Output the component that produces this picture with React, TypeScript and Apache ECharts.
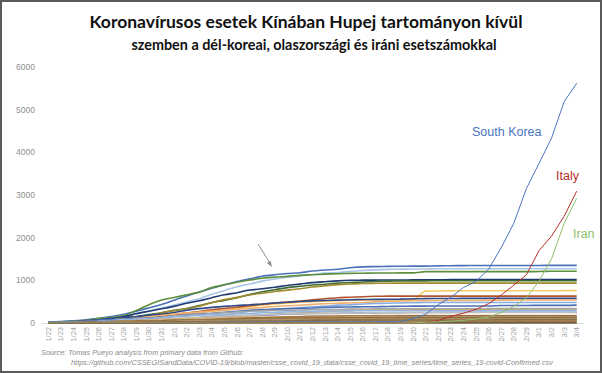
import React, { useEffect, useRef } from "react";
import * as echarts from "echarts";

const dates = ["1/22","1/23","1/24","1/25","1/26","1/27","1/28","1/29","1/30","1/31",
  "2/1","2/2","2/3","2/4","2/5","2/6","2/7","2/8","2/9","2/10","2/11","2/12","2/13","2/14","2/15",
  "2/16","2/17","2/18","2/19","2/20","2/21","2/22","2/23","2/24","2/25","2/26","2/27","2/28","2/29",
  "3/1","3/2","3/3","3/4"];

const yTicks = [0, 1000, 2000, 3000, 4000, 5000, 6000];

const guangdong = [26,32,53,78,111,151,207,277,354,436, 535,632,725,813,895,970,1034,1095,1131,1159,1177,1219,1241,1261,1294,1316,1322,1328,1331,1332,1333,1339,1342,1345,1347,1347,1347,1348,1349, 1349,1350,1350,1350];
const henan = [5,5,9,32,83,128,168,206,278,352, 422,493,566,675,764,851,914,981,1033,1073,1105,1135,1169,1184,1212,1231,1246,1257,1262,1265,1267,1270,1271,1271,1271,1271,1272,1272,1272, 1272,1272,1272,1272];
const zhejiang = [10,27,43,62,104,128,173,296,428,538, 599,661,724,829,895,954,1006,1048,1075,1092,1117,1131,1145,1155,1162,1167,1171,1172,1174,1175,1203,1205,1205,1205,1205,1205,1205,1205,1205, 1206,1213,1213,1213];
const hunan = [4,9,24,43,69,100,143,221,277,332, 389,463,521,593,661,711,772,803,838,879,912,946,968,988,1001,1004,1006,1007,1008,1010,1011,1013,1016,1016,1016,1016,1017,1017,1018, 1018,1018,1018,1018];
const anhui = [1,9,15,39,60,70,106,152,200,237, 297,340,408,480,530,591,665,733,779,830,860,889,910,934,950,962,973,982,986,987,988,989,989,989,989,989,989,990,990, 990,990,990,990];
const jiangxi = [2,7,18,18,36,72,109,109,162,240, 286,333,391,476,548,600,661,698,740,771,804,844,872,900,913,925,930,933,934,934,934,934,934,934,934,934,934,934,935, 935,935,935,935];
const shandong = [2,6,15,27,46,75,95,130,158,184, 206,230,259,275,307,347,386,416,444,466,487,497,509,523,532,537,541,543,544,546,748,750,754,755,756,756,756,756,756, 756,756,758,758];
const jiangsu = [1,5,9,18,33,47,70,99,129,168, 202,236,271,308,341,373,408,439,468,492,515,543,570,593,604,617,626,629,631,631,631,631,631,631,631,631,631,631,631, 631,631,631,631];
const chongqing = [6,9,27,57,75,110,132,147,182,211, 247,300,337,366,389,411,426,446,468,486,505,518,529,537,544,551,553,555,560,567,572,573,575,576,576,576,576,576,576, 576,576,576,576];
const sichuan = [5,8,15,28,44,69,90,108,142,177, 207,231,254,282,301,321,344,363,386,405,417,436,451,463,470,481,495,508,514,520,525,526,526,527,529,531,534,538,538, 538,538,538,539];
const heilongjiang = [0,2,4,9,15,21,33,38,44,59, 80,95,121,155,190,227,277,282,307,331,360,378,395,418,425,445,457,464,470,476,479,479,480,480,480,480,480,480,480, 480,480,481,481];
const beijing = [14,22,36,41,68,80,91,111,114,139, 168,191,212,228,253,274,297,315,326,337,342,352,366,372,375,380,381,387,393,395,396,399,399,399,400,400,410,410,411, 413,414,414,418];
const shanghai = [9,16,20,33,40,53,66,96,112,135, 169,182,203,219,243,257,277,286,293,299,303,311,315,318,326,328,331,333,333,333,334,334,335,335,335,336,337,337,337, 337,337,338,339];
const hebei = [1,1,2,8,13,18,33,48,65,82, 96,104,113,126,135,157,171,195,206,218,239,251,265,283,291,300,301,306,306,307,308,309,311,311,311,312,317,318,318, 318,318,318,318];
const fujian = [1,5,10,18,35,59,80,84,101,120, 144,159,179,194,205,215,224,239,250,261,267,272,279,281,285,287,290,292,293,293,293,293,293,293,294,294,296,296,296, 296,296,296,296];
const guangxi = [2,5,23,23,36,46,51,58,78,87, 100,111,127,139,150,168,172,183,195,210,215,222,222,226,235,237,238,242,244,245,246,249,249,251,252,252,252,252,252, 252,252,252,252];
const shaanxi = [0,3,5,15,22,35,46,56,63,87, 101,116,128,142,165,173,184,195,208,213,219,225,229,230,232,236,240,240,242,245,245,245,245,245,245,245,245,245,245, 245,245,245,245];
const yunnan = [1,2,5,11,16,26,44,55,70,83, 93,105,117,122,128,137,138,140,141,149,154,155,162,168,169,171,172,172,172,174,174,174,174,174,174,174,174,174,174, 174,174,174,174];
const hainan = [4,5,8,19,22,33,40,43,46,52, 62,64,72,80,99,106,117,124,131,138,144,157,157,159,162,162,163,163,168,168,168,168,168,168,168,168,168,168,168, 168,168,168,168];
const guizhou = [1,3,3,4,5,7,9,9,12,29, 29,38,46,58,64,71,81,89,99,109,127,133,135,140,143,144,146,146,146,146,146,146,146,146,146,146,146,146,146, 146,146,146,146];
const tianjin = [4,4,8,10,14,23,24,27,31,32, 41,48,60,67,69,78,81,88,91,95,106,112,119,120,124,125,128,130,131,132,135,135,135,135,135,135,136,136,136, 136,136,136,136];
const shanxi = [1,1,1,6,9,13,27,27,35,39, 47,66,74,81,81,90,96,104,115,119,122,124,126,126,127,128,129,130,131,131,132,132,132,132,133,133,133,133,133, 133,133,133,133];
const liaoning = [2,3,4,17,21,27,34,39,41,48, 64,70,74,81,89,94,99,105,107,108,111,116,117,119,119,121,121,121,121,121,121,121,121,121,121,121,121,121,121, 122,122,125,125];
const hongKong = [0,2,2,5,8,8,8,10,10,12, 13,15,15,17,21,24,25,26,29,38,49,50,53,56,56,57,60,62,63,68,68,69,74,79,84,91,92,94,95, 96,100,100,105];
const jilin = [0,1,3,4,4,6,8,9,14,14, 17,23,31,42,54,59,65,69,78,80,81,83,84,86,88,89,89,89,90,91,91,91,91,93,93,93,93,93,93, 93,93,93,93];
const gansu = [0,2,2,4,7,14,19,24,26,29, 40,51,55,57,62,62,67,79,83,83,86,87,90,90,90,90,91,91,91,91,91,91,91,91,91,91,91,91,91, 91,91,91,91];
const xinjiang = [0,2,2,3,4,5,10,13,14,17, 18,21,24,29,32,36,39,42,45,49,55,59,63,65,70,71,75,76,76,76,76,76,76,76,76,76,76,76,76, 76,76,76,76];
const innerMongolia = [0,0,1,7,7,11,15,16,19,20, 23,27,34,35,42,46,50,52,54,58,58,60,61,65,68,70,72,73,75,75,75,75,75,75,75,75,75,75,75, 75,75,75,75];
const ningxia = [1,1,2,3,4,7,11,12,17,21, 26,28,31,34,34,40,43,45,45,49,53,58,64,67,70,70,70,70,71,71,71,71,71,71,72,72,73,73,73, 73,74,74,75];
const taiwan = [1,1,3,3,4,5,8,8,9,10, 10,10,10,11,11,16,16,17,18,18,18,18,18,18,18,20,22,22,23,24,26,26,28,30,31,32,32,34,39, 40,41,42,42];
const qinghai = [0,0,0,1,4,6,6,6,8,9, 11,13,15,17,18,18,18,18,18,18,18,18,18,18,18,18,18,18,18,18,18,18,18,18,18,18,18,18,18, 18,18,18,18];
const macau = [1,2,2,2,5,6,7,7,7,7, 7,8,8,10,10,10,10,10,10,10,10,10,10,10,10,10,10,10,10,10,10,10,10,10,10,10,10,10,10, 10,10,10,10];
const tibet = [0,0,0,0,0,0,0,0,1,1, 1,1,1,1,1,1,1,1,1,1,1,1,1,1,1,1,1,1,1,1,1,1,1,1,1,1,1,1,1, 1,1,1,1];

const southKorea = [1,1,2,2,3,4,4,4,4,11, 12,15,15,16,19,23,24,24,25,27,28,28,28,28,28,29,30,31,31,104,204,433,602,833,977,1261,1766,2337,3150, 3736,4335,5186,5621];
const italy = [0,0,0,0,0,0,0,0,0,2, 2,2,2,2,2,2,3,3,3,3,3,3,3,3,3,3,3,3,3,3,20,62,155,229,322,453,655,888,1128, 1694,2036,2502,3089];
const iran = [0,0,0,0,0,0,0,0,0,0, 0,0,0,0,0,0,0,0,0,0,0,0,0,0,0,0,0,0,2,5,18,28,43,61,95,139,245,388,593, 978,1501,2336,2922];

const provinceNames = ["Guangdong","Henan","Zhejiang","Hunan","Anhui","Jiangxi","Shandong","Jiangsu","Chongqing","Sichuan",
  "Heilongjiang","Beijing","Shanghai","Hebei","Fujian","Guangxi","Shaanxi","Yunnan","Hainan","Guizhou","Tianjin","Shanxi",
  "Liaoning","Hong Kong","Jilin","Gansu","Xinjiang","Inner Mongolia","Ningxia","Taiwan","Qinghai","Macau","Tibet"];
const provinceData = [guangdong, henan, zhejiang, hunan, anhui, jiangxi, shandong, jiangsu, chongqing, sichuan,
  heilongjiang, beijing, shanghai, hebei, fujian, guangxi, shaanxi, yunnan, hainan, guizhou, tianjin, shanxi,
  liaoning, hongKong, jilin, gansu, xinjiang, innerMongolia, ningxia, taiwan, qinghai, macau, tibet];
const provinceColors = ["#4a72b8","#a9c6e6","#5e8f3e","#1f3a6e","#3d6b35","#a08a2c","#f5cd66","#b3532c","#2e4a87","#f2ae6c",
  "#86aee0","#4a6fb5","#a5a5a5","#c9a55c","#93b6e0","#6b8fce","#bfbfbf","#d4b483","#9e6b3a","#c8a06a","#7e95b8","#b38a4c",
  "#8c6d3f","#a0b8d8","#9a7b4f","#b09060","#6f5a38","#c0a070","#8b6b40","#a98552","#7a6040","#b89868","#5c4a30"];

const countryNames = ["South Korea", "Italy", "Iran"];
const countryData = [southKorea, italy, iran];
const countryColors = ["#4a74c0", "#b5302a", "#8fbf6a"];

const FONT = "'Liberation Sans', Arial, sans-serif";

export default function App() {
  const ref = useRef<HTMLDivElement>(null);
  useEffect(() => {
    if (!ref.current) return;
    const chart = echarts.init(ref.current, null, { renderer: "svg" });
    const series: any[] = [];
    provinceData.forEach((d, i) => {
      series.push({
        name: provinceNames[i], type: "line", data: d, symbol: "none", smooth: 0.3,
        lineStyle: { width: 1.6, color: provinceColors[i] }, z: 2,
      });
    });
    countryData.forEach((d, i) => {
      series.push({
        name: countryNames[i], type: "line", data: d, symbol: "none", smooth: false,
        lineStyle: { width: 1, color: countryColors[i] }, z: 3,
      });
    });
    const option: any = {
      animation: false,
      backgroundColor: "#ffffff",
      grid: { left: 42, right: 19, top: 67, bottom: 50, containLabel: false },
      xAxis: {
        type: "category", data: dates, boundaryGap: true,
        axisLine: { lineStyle: { color: "#d9d9d9", width: 1 } },
        axisTick: { show: false },
        axisLabel: { interval: 0, rotate: 90, fontSize: 7.5, color: "#a3a3a3", fontFamily: FONT, margin: 4 },
        splitLine: { show: false },
      },
      yAxis: {
        type: "value", min: yTicks[0], max: yTicks[yTicks.length - 1], interval: 1000,
        axisLine: { show: false }, axisTick: { show: false }, splitLine: { show: false },
        axisLabel: { fontSize: 8.5, color: "#8f8f8f", fontFamily: FONT, margin: 7, formatter: (v: number) => String(v) },
      },
      series,
      graphic: [
        { type: "rect", shape: { x: 1, y: 1, width: 600, height: 371 }, style: { fill: "none", stroke: "#5a5a5a", lineWidth: 2 }, silent: true, z: 100 },
        { type: "text", x: 306, y: 21, style: { text: "Koronavírusos esetek Kínában Hupej tartományon kívül", font: "bold 17.5px Lato, 'Open Sans', sans-serif", fill: "#111", textAlign: "center", textVerticalAlign: "middle" } },
        { type: "text", x: 314, y: 44, style: { text: "szemben a dél-koreai, olaszországi és iráni esetszámokkal", font: "bold 14.4px Lato, 'Open Sans', sans-serif", fill: "#111", textAlign: "center", textVerticalAlign: "middle" } },
        { type: "text", x: 472, y: 132, style: { text: "South Korea", font: "12.5px " + FONT, fill: "#4a74c0", textVerticalAlign: "middle" } },
        { type: "text", x: 556, y: 176, style: { text: "Italy", font: "12.5px " + FONT, fill: "#b5302a", textVerticalAlign: "middle" } },
        { type: "text", x: 573, y: 234, style: { text: "Iran", font: "12.5px " + FONT, fill: "#8fbf6a", textVerticalAlign: "middle" } },
        { type: "line", shape: { x1: 258, y1: 244, x2: 270.5, y2: 264 }, style: { stroke: "#8a8a8a", lineWidth: 1 } },
        { type: "polygon", shape: { points: [[272, 267], [266.9, 263.1], [270.7, 261.1]] }, style: { fill: "#8a8a8a" } },
        { type: "text", x: 41, y: 352, style: { text: "Source: Tomas Pueyo analysis from primary data from Github:", font: "italic 7.35px " + FONT, fill: "#8a8a8a", textVerticalAlign: "middle" } },
        { type: "text", x: 71, y: 362.5, style: { text: "https://github.com/CSSEGISandData/COVID-19/blob/master/csse_covid_19_data/csse_covid_19_time_series/time_series_19-covid-Confirmed.csv", font: "italic 7.4px " + FONT, fill: "#8a8a8a", textVerticalAlign: "middle" } },
      ],
    };
    chart.setOption(option);
    return () => chart.dispose();
  }, []);
  return <div ref={ref} style={{ position: "fixed", left: 0, top: 0, width: 602, height: 373 }} />;
}
